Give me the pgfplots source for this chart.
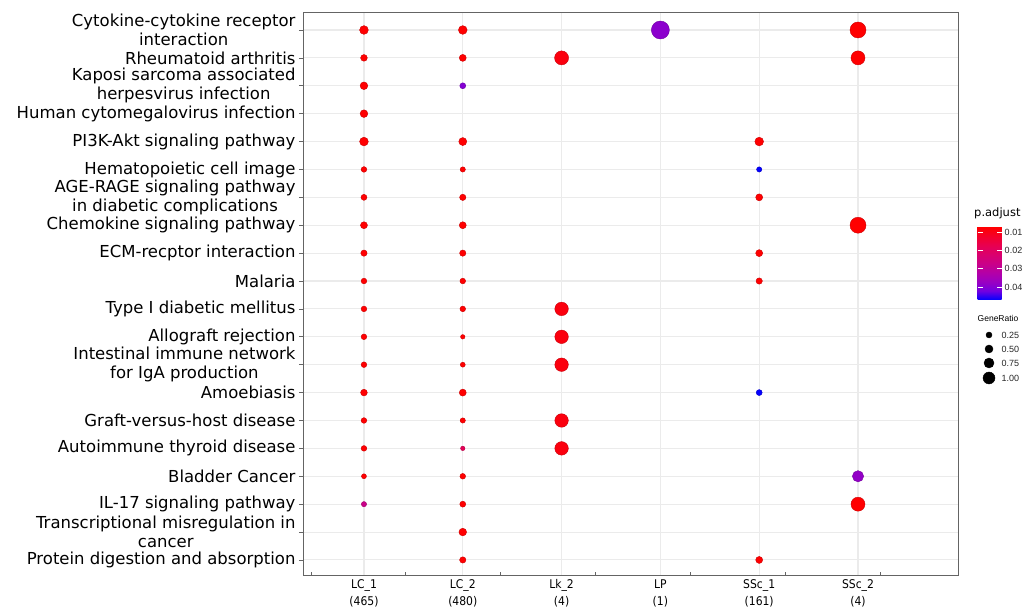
\documentclass[border=0pt]{standalone}
\usepackage{fontspec}
\setmainfont{DejaVu Sans}
\newfontfamily\condfont{DejaVu Sans Condensed}
\newfontfamily\legfont{Liberation Sans}
\usepackage{pgfplots}
\pgfplotsset{compat=1.18}
\usepackage{pgfplotstable}

\pgfplotstableread{
x y g p
0 1 0.59 0.007
1 1 0.59 0.007
3 1 1.75 0.039
5 1 1.50 0.007
0 2 0.34 0.007
1 2 0.375 0.007
2 2 1.25 0.0085
5 2 1.25 0.007
0 3 0.46 0.007
1 3 0.25 0.040
0 4 0.46 0.007
0 5 0.59 0.007
1 5 0.50 0.007
4 5 0.59 0.007
0 6 0.21 0.007
1 6 0.16 0.007
4 6 0.16 0.047
0 7 0.25 0.007
1 7 0.29 0.007
4 7 0.375 0.007
0 8 0.375 0.007
1 8 0.375 0.007
5 8 1.50 0.007
0 9 0.29 0.007
1 9 0.29 0.007
4 9 0.375 0.007
0 10 0.21 0.007
1 10 0.21 0.007
4 10 0.29 0.007
0 11 0.21 0.007
1 11 0.21 0.007
2 11 1.19 0.0085
0 12 0.21 0.007
1 12 0.06 0.007
2 12 1.19 0.0085
0 13 0.21 0.007
1 13 0.125 0.007
2 13 1.19 0.0085
0 14 0.34 0.007
1 14 0.375 0.007
4 14 0.25 0.047
0 15 0.21 0.007
1 15 0.16 0.007
2 15 1.19 0.0085
0 16 0.21 0.007
1 16 0.06 0.018
2 16 1.19 0.0085
0 17 0.125 0.007
1 17 0.21 0.007
5 17 0.91 0.038
0 18 0.16 0.027
1 18 0.25 0.007
5 18 1.25 0.007
1 19 0.46 0.007
1 20 0.29 0.007
4 20 0.375 0.007
}\dotdata

\definecolor{gridc}{RGB}{235,235,235}
\definecolor{framec}{RGB}{100,100,100}

\begin{document}
\begin{tikzpicture}
\path[use as bounding box] (0,0) rectangle (1023pt,610pt);
\begin{axis}[
  at={(303pt,35pt)}, anchor=south west,
  scale only axis, width=655pt, height=563pt,
  xmin=-0.617, xmax=6.012, ymin=0.355, ymax=20.54,
  y dir=reverse,
  axis line style={framec, line width=0.9pt},
  grid=major, major grid style={gridc, line width=1.1pt},
  xtick={0,...,5},
  xticklabels={{LC\_1\\(465)},{LC\_2\\(480)},{Lk\_2\\(4)},{LP\\(1)},{SSc\_1\\(161)},{SSc\_2\\(4)}},
  xticklabel style={align=center, font=\condfont\fontsize{12}{17}\selectfont, yshift=3pt},
  xtick pos=bottom, ytick pos=left,
  xtick style={draw=none},
  extra x ticks={-0.536,0.415,1.377,2.338,3.299,4.261,5.223},
  extra x tick labels={},
  extra x tick style={grid=none, tick align=inside, major tick length=3pt, xtick style={draw=framec, line width=0.8pt}},
  ytick={1,...,20},
  yticklabels={{Cytokine-cytokine receptor\\interaction},{Rheumatoid arthritis},{Kaposi sarcoma associated\\herpesvirus infection},{Human cytomegalovirus infection},{PI3K-Akt signaling pathway},{Hematopoietic cell image},{AGE-RAGE signaling pathway\\in diabetic complications},{Chemokine signaling pathway},{ECM-recptor interaction},{Malaria},{Type I diabetic mellitus},{Allograft rejection},{Intestinal immune network\\for IgA production},{Amoebiasis},{Graft-versus-host disease},{Autoimmune thyroid disease},{Bladder Cancer},{IL-17 signaling pathway},{Transcriptional misregulation in\\cancer},{Protein digestion and absorption}},
  yticklabel style={align=center, font=\fontsize{16.5}{19}\selectfont},
  ytick style={framec, line width=0.7pt},
  tick align=outside, major tick length=4pt,
  colormap={ggrb}{rgb255=(255,0,0) rgb255=(244,0,42) rgb255=(232,0,80) rgb255=(218,0,110) rgb255=(202,0,136) rgb255=(180,0,167) rgb255=(154,0,194) rgb255=(115,0,224) rgb255=(0,0,255)},
  point meta min=0.00685, point meta max=0.0472,
  colorbar,
  colorbar/width=24pt,
  colorbar style={
    at={(parent axis.north east)}, anchor=north west,
    xshift=11pt, yshift=-215pt,
    scale only axis, width=24pt, height=73pt,
    y dir=reverse,
    scaled y ticks=false,
    axis line style={draw=none},
    ytick={0.01,0.02,0.03,0.04},
    yticklabels={0.01,0.02,0.03,0.04},
    yticklabel style={font=\legfont\fontsize{9}{9}\selectfont, text=black!85, inner sep=0pt, xshift=3pt},
    ytick pos=both, yticklabel pos=right,
    tick align=inside, major tick length=5pt,
    ytick style={white, line width=0.8pt},
  },
]
\addplot[scatter, only marks, mark=*, point meta=explicit,
  visualization depends on={\thisrow{g} \as \gr},
  scatter/@pre marker code/.append style={/tikz/mark size={2+4*\gr}}]
  table[x=x, y=y, meta=p] {\dotdata};
\end{axis}

\begin{axis}[
  at={(970pt,220pt)}, anchor=south west,
  scale only axis, width=53pt, height=80pt,
  xmin=970, xmax=1023, ymin=310, ymax=390, y dir=reverse,
  hide axis, clip=false,
  nodes near coords style={anchor=west, xshift=9pt, font=\legfont\fontsize{9}{9}\selectfont, text=black!85},
]
\addplot[only marks, mark=*, black, mark size=3pt, nodes near coords={0.25}] coordinates {(989,335)};
\addplot[only marks, mark=*, black, mark size=4pt, nodes near coords={0.50}] coordinates {(989,349)};
\addplot[only marks, mark=*, black, mark size=5pt, nodes near coords={0.75}] coordinates {(989,363)};
\addplot[only marks, mark=*, black, mark size=6pt, nodes near coords={1.00}] coordinates {(989,378)};
\end{axis}

\node[anchor=west, inner sep=0pt, font=\fontsize{11.5}{12}\selectfont] at (974pt,397pt) {p.adjust};
\node[inner sep=0pt, font=\legfont\fontsize{8.5}{9}\selectfont] at (998pt,292pt) {GeneRatio};
\end{tikzpicture}
\end{document}
